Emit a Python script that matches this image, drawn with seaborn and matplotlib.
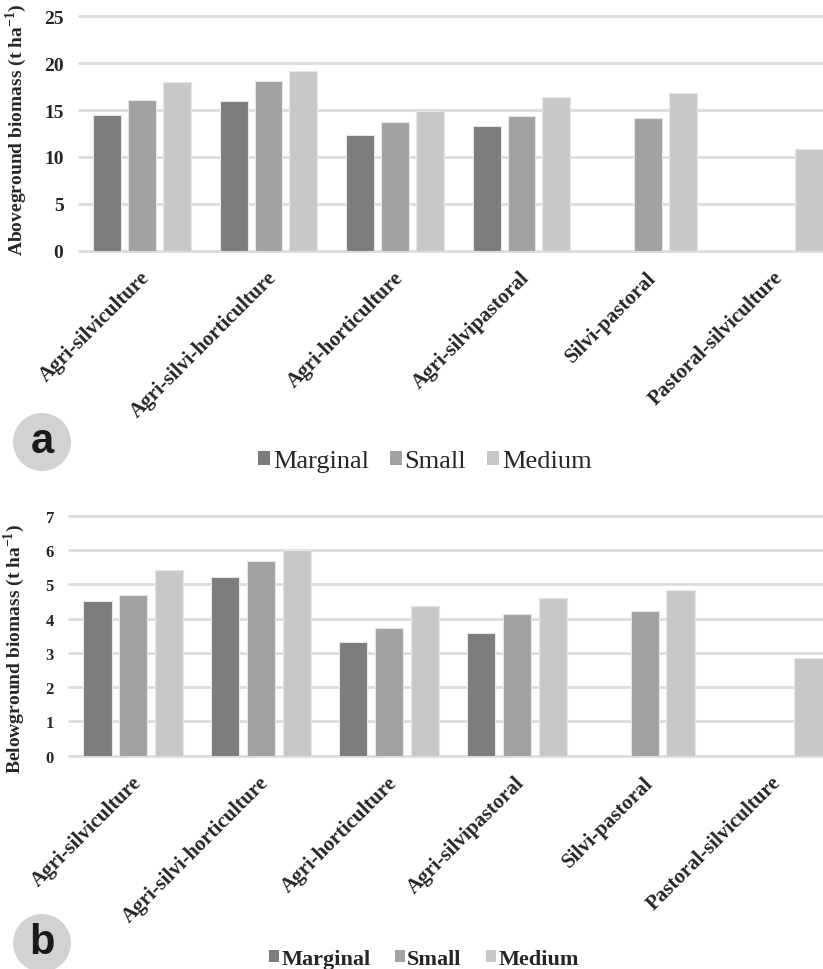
import pandas as pd
import matplotlib.pyplot as plt
import matplotlib.transforms as mtransforms
import seaborn as sns
from matplotlib.patches import Ellipse, Patch

# =====================================================================
# DATA
# =====================================================================
systems = ["Agri-silviculture", "Agri-silvi-horticulture", "Agri-horticulture",
           "Agri-silvipastoral", "Silvi-pastoral", "Pastoral-silviculture"]
farm_sizes = ["Marginal", "Small", "Medium"]

# aboveground biomass (t ha-1); None = no bar
above_marginal = [14.5, 16.0, 12.3, 13.3, None, None]
above_small = [16.1, 18.1, 13.7, 14.4, 14.1, None]
above_medium = [18.0, 19.2, 14.9, 16.4, 16.8, 10.8]

# belowground biomass (t ha-1)
below_marginal = [4.50, 5.22, 3.32, 3.58, None, None]
below_small = [4.70, 5.68, 3.73, 4.13, 4.22, None]
below_medium = [5.42, 6.00, 4.38, 4.61, 4.84, 2.86]


def to_long(marg, small, med):
    rows = []
    for size, vals in zip(farm_sizes, [marg, small, med]):
        for sys_name, v in zip(systems, vals):
            if v is not None:
                rows.append({"system": sys_name, "size": size, "value": v})
    return pd.DataFrame(rows)


df_above = to_long(above_marginal, above_small, above_medium)
df_below = to_long(below_marginal, below_small, below_medium)

# =====================================================================
# PLOT
# =====================================================================
sns.set_style("white")
plt.rcParams["font.family"] = ["Liberation Serif", "DejaVu Serif"]
plt.rcParams["mathtext.fontset"] = "custom"
plt.rcParams["mathtext.rm"] = "Liberation Serif"
plt.rcParams["mathtext.bf"] = "Liberation Serif:bold"

pal = {"Marginal": "#7d7d7d", "Small": "#a2a2a2", "Medium": "#c8c8c8"}
grid_col = "#d9dce4"

fig = plt.figure(figsize=(8.23, 9.70), dpi=100)
ax_a = fig.add_axes([78.75 / 823, 1 - 251.7 / 970, 759 / 823, 234.4 / 970])
ax_b = fig.add_axes([69.25 / 823, 1 - 756.7 / 970, 767.4 / 823, 240 / 970])

panels = [
    (ax_a, df_above, 25, 5, "Aboveground biomass (t ha$^{\\mathbf{-1}}$)", 14, 14, 0.83, 0.2,
     (-0.066, 0.52)),
    (ax_b, df_below, 7, 1, "Belowground biomass (t ha$^{\\mathbf{-1}}$)", 12, 14, 0.84, 0.21,
     (-0.055, 0.45)),
]

for ax, df, ymax, step, ylab, tick_fs, lab_fs, w, gap, lab_xy in panels:
    sns.barplot(data=df, x="system", y="value", hue="size", order=systems,
                hue_order=farm_sizes, palette=pal, width=w, gap=gap,
                edgecolor="#e6e6e6", linewidth=0.8, saturation=1,
                legend=False, ax=ax)
    ax.set_ylim(0, ymax)
    ax.set_xlim(-0.5, len(systems) - 0.5)
    ax.set_yticks(range(0, ymax + 1, step))
    ax.yaxis.grid(True, color=grid_col, lw=2)
    ax.set_axisbelow(True)
    for gl in ax.get_ygridlines():
        gl.set_clip_on(False)
    sns.despine(ax=ax, left=True, bottom=True, top=True, right=True)
    ax.tick_params(axis="y", length=0, pad=11, labelsize=tick_fs)
    ax.tick_params(axis="x", length=0, pad=17)
    for t in ax.get_yticklabels():
        t.set_fontweight("bold")
    ax.set_xticks(range(len(systems)))
    ax.set_xticklabels(systems, rotation=45, ha="right", va="center",
                       rotation_mode="anchor", fontsize=15, fontweight="bold")
    shift = mtransforms.ScaledTranslation(5 / 100, 0, fig.dpi_scale_trans)
    for t in ax.get_xticklabels():
        t.set_transform(t.get_transform() + shift)
    ax.set_xlabel("")
    ax.set_ylabel(ylab, fontsize=lab_fs, fontweight="bold")
    ax.yaxis.set_label_coords(*lab_xy)

# legends
handles = [Patch(facecolor=pal[s], edgecolor="none", label=s) for s in farm_sizes]
fig.legend(handles=handles, loc="center", ncol=3, frameon=False,
           bbox_to_anchor=(425 / 823, 1 - 462 / 970), prop={"size": 19},
           handlelength=0.45, handleheight=0.45, handletextpad=0.1,
           columnspacing=0.8)
fig.legend(handles=handles, loc="center", ncol=3, frameon=False,
           bbox_to_anchor=(424 / 823, 1 - 960 / 970),
           prop={"size": 16, "weight": "bold"},
           handlelength=0.45, handleheight=0.45, handletextpad=0.1,
           columnspacing=1.1)

# panel badges
for letter, cy in [("a", 443), ("b", 944)]:
    fig.patches.append(Ellipse((42 / 823, 1 - cy / 970), 58 / 823, 58 / 970,
                               transform=fig.transFigure, facecolor="#d1d2d4",
                               edgecolor="none"))
    fig.text(42 / 823, 1 - (cy - 1) / 970, letter, ha="center", va="center",
             fontsize=30, fontweight="bold", family="Liberation Sans",
             color="#1a1a1a")

fig.savefig("out.png", dpi=100)
